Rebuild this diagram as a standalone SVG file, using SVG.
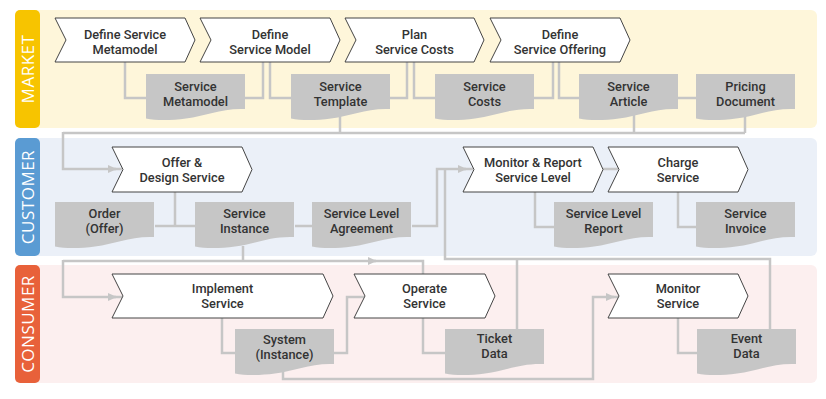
<svg xmlns="http://www.w3.org/2000/svg" width="826" height="399" viewBox="0 0 826 399">
  <style>
    .lbl { font-family: Roboto, "Liberation Sans", sans-serif; font-size: 12.8px; font-weight: 500; fill: #333; text-anchor: middle; }
    .tab { font-family: "Open Sans", "Liberation Sans", sans-serif; font-size: 17px; fill: #fff; text-anchor: middle; letter-spacing: 0.5px; }
    .chev { fill: #fff; stroke: #444; stroke-width: 1; stroke-linejoin: miter; }
    .doc { fill: #c6c6c6; }
    .wire { fill: none; stroke: #c6c6c6; stroke-width: 2.5; }
  </style>
  <defs>
    <path id="docShape" d="M0,0 H99 V35 C75,34 60,42 40,44.5 C25,46.5 10,46.5 0,44.5 Z"/>
    <marker id="arr" markerWidth="10" markerHeight="10" refX="8" refY="5" orient="auto" markerUnits="userSpaceOnUse">
      <path d="M0,1 L9,5 L0,9 Z" fill="#c6c6c6"/>
    </marker>
  </defs>

  <!-- swimlanes -->
  <g id="lane-market">
    <rect x="22" y="10" width="795" height="118" rx="6" fill="#fef6da"/>
    <rect x="15" y="10" width="25" height="118" rx="5" fill="#f7c400"/>
    <text class="tab" transform="translate(33.5,69) rotate(-90)">MARKET</text>
  </g>
  <g id="lane-customer">
    <rect x="22" y="138" width="795" height="118" rx="6" fill="#ebf0f8"/>
    <rect x="15" y="138" width="25" height="118" rx="5" fill="#5a9bd3"/>
    <text class="tab" transform="translate(33.5,197) rotate(-90)">CUSTOMER</text>
  </g>
  <g id="lane-consumer">
    <rect x="22" y="265" width="795" height="118" rx="6" fill="#fcefef"/>
    <rect x="15" y="265" width="25" height="118" rx="5" fill="#e8613a"/>
    <text class="tab" transform="translate(33.5,324) rotate(-90)">CONSUMER</text>
  </g>

  <!-- connectors -->
  <g id="connectors">
    <!-- market -->
    <path class="wire" d="M125,62 V98 H146"/>
    <path class="wire" d="M245,98 H263 V62"/>
    <path class="wire" d="M270,62 V98 H291"/>
    <path class="wire" d="M390,98 H407 V62"/>
    <path class="wire" d="M414,62 V98 H435"/>
    <path class="wire" d="M534,98 H553 V62"/>
    <path class="wire" d="M559,62 V98 H579"/>
    <path class="wire" d="M678,98 H696"/>
    <path class="wire" d="M340,112 V133"/>
    <path class="wire" d="M634,112 V133"/>
    <path class="wire" d="M745,110 V133"/>
    <path class="wire" d="M63,133 H745"/>
    <path class="wire" d="M63,132 V169 H116" marker-end="url(#arr)"/>
    <path class="wire" d="M114,169 H122"/>
    <!-- customer -->
    <path class="wire" d="M175,192 V226"/>
    <path class="wire" d="M155,226 H195"/>
    <path class="wire" d="M295,226 H312"/>
    <path class="wire" d="M412,226 H437 V169 H466" marker-end="url(#arr)"/>
    <path class="wire" d="M464,169 H473"/>
    <path class="wire" d="M445,169 V259 H770 V329"/>
    <path class="wire" d="M517,259 V329"/>
    <path class="wire" d="M603,169 H618"/>
    <path class="wire" d="M535,192 V227 H554"/>
    <path class="wire" d="M678,192 V227 H696"/>
    <!-- consumer -->
    <path class="wire" d="M243,246 V261"/>
    <path class="wire" d="M63,261 H376" marker-end="url(#arr)"/>
    <path class="wire" d="M374,261 H423 V274"/>
    <path class="wire" d="M63,260 V297 H116" marker-end="url(#arr)"/>
    <path class="wire" d="M114,297 H122"/>
    <path class="wire" d="M222,318 V353 H235"/>
    <path class="wire" d="M334,353 H347 V297 H364"/>
    <path class="wire" d="M423,318 V353 H445"/>
    <path class="wire" d="M678,318 V353 H697"/>
    <path class="wire" d="M283,370 V379 H593 V297 H614" marker-end="url(#arr)"/>
    <path class="wire" d="M612,297 H618"/>
  </g>

  <!-- market processes -->
  <g id="define-service-metamodel">
    <path class="chev" d="M55,18 H185 L195,40 L185,62 H55 L66,40 Z"/>
    <text class="lbl" x="125" y="39">Define Service</text>
    <text class="lbl" x="125" y="54">Metamodel</text>
  </g>
  <g id="define-service-model">
    <path class="chev" d="M200,18 H330 L340,40 L330,62 H200 L211,40 Z"/>
    <text class="lbl" x="270" y="39">Define</text>
    <text class="lbl" x="270" y="54">Service Model</text>
  </g>
  <g id="plan-service-costs">
    <path class="chev" d="M345,18 H474 L484,40 L474,62 H345 L356,40 Z"/>
    <text class="lbl" x="414.5" y="39">Plan</text>
    <text class="lbl" x="414.5" y="54">Service Costs</text>
  </g>
  <g id="define-service-offering">
    <path class="chev" d="M490,18 H620 L630,40 L620,62 H490 L501,40 Z"/>
    <text class="lbl" x="560" y="39">Define</text>
    <text class="lbl" x="560" y="54">Service Offering</text>
  </g>

  <!-- market documents -->
  <g id="doc-service-metamodel">
    <use href="#docShape" class="doc" x="146" y="74"/>
    <text class="lbl" x="195.5" y="91">Service</text>
    <text class="lbl" x="195.5" y="106">Metamodel</text>
  </g>
  <g id="doc-service-template">
    <use href="#docShape" class="doc" x="291" y="74"/>
    <text class="lbl" x="340.5" y="91">Service</text>
    <text class="lbl" x="340.5" y="106">Template</text>
  </g>
  <g id="doc-service-costs">
    <use href="#docShape" class="doc" x="435" y="74"/>
    <text class="lbl" x="484.5" y="91">Service</text>
    <text class="lbl" x="484.5" y="106">Costs</text>
  </g>
  <g id="doc-service-article">
    <use href="#docShape" class="doc" x="579" y="74"/>
    <text class="lbl" x="628.5" y="91">Service</text>
    <text class="lbl" x="628.5" y="106">Article</text>
  </g>
  <g id="doc-pricing-document">
    <use href="#docShape" class="doc" x="696" y="74"/>
    <text class="lbl" x="745.5" y="91">Pricing</text>
    <text class="lbl" x="745.5" y="106">Document</text>
  </g>

  <!-- customer processes -->
  <g id="offer-design-service">
    <path class="chev" d="M112,147 H242 L252,169.5 L242,192 H112 L123,169.5 Z"/>
    <text class="lbl" x="182" y="167">Offer &amp;</text>
    <text class="lbl" x="182" y="182">Design Service</text>
  </g>
  <g id="monitor-report-service-level">
    <path class="chev" d="M463,147 H593 L603,169.5 L593,192 H463 L474,169.5 Z"/>
    <text class="lbl" x="533" y="167">Monitor &amp; Report</text>
    <text class="lbl" x="533" y="182">Service Level</text>
  </g>
  <g id="charge-service">
    <path class="chev" d="M608,147 H738 L748,169.5 L738,192 H608 L619,169.5 Z"/>
    <text class="lbl" x="678" y="167">Charge</text>
    <text class="lbl" x="678" y="182">Service</text>
  </g>

  <!-- customer documents -->
  <g id="doc-order-offer">
    <use href="#docShape" class="doc" x="55" y="202"/>
    <text class="lbl" x="104.5" y="218">Order</text>
    <text class="lbl" x="104.5" y="233">(Offer)</text>
  </g>
  <g id="doc-service-instance">
    <use href="#docShape" class="doc" x="195" y="202"/>
    <text class="lbl" x="244.5" y="218">Service</text>
    <text class="lbl" x="244.5" y="233">Instance</text>
  </g>
  <g id="doc-service-level-agreement">
    <use href="#docShape" class="doc" x="312" y="202"/>
    <text class="lbl" x="361.5" y="218">Service Level</text>
    <text class="lbl" x="361.5" y="233">Agreement</text>
  </g>
  <g id="doc-service-level-report">
    <use href="#docShape" class="doc" x="554" y="202"/>
    <text class="lbl" x="603.5" y="218">Service Level</text>
    <text class="lbl" x="603.5" y="233">Report</text>
  </g>
  <g id="doc-service-invoice">
    <use href="#docShape" class="doc" x="696" y="202"/>
    <text class="lbl" x="745.5" y="218">Service</text>
    <text class="lbl" x="745.5" y="233">Invoice</text>
  </g>

  <!-- consumer processes -->
  <g id="implement-service">
    <path class="chev" d="M112,274 H323 L333,296 L323,318 H112 L123,296 Z"/>
    <text class="lbl" x="222.5" y="293">Implement</text>
    <text class="lbl" x="222.5" y="308">Service</text>
  </g>
  <g id="operate-service">
    <path class="chev" d="M354,274 H485 L495,296 L485,318 H354 L365,296 Z"/>
    <text class="lbl" x="424.5" y="293">Operate</text>
    <text class="lbl" x="424.5" y="308">Service</text>
  </g>
  <g id="monitor-service">
    <path class="chev" d="M608,274 H738 L748,296 L738,318 H608 L619,296 Z"/>
    <text class="lbl" x="678" y="293">Monitor</text>
    <text class="lbl" x="678" y="308">Service</text>
  </g>

  <!-- consumer documents -->
  <g id="doc-system-instance">
    <use href="#docShape" class="doc" x="235" y="329"/>
    <text class="lbl" x="284.5" y="344">System</text>
    <text class="lbl" x="284.5" y="359">(Instance)</text>
  </g>
  <g id="doc-ticket-data">
    <use href="#docShape" class="doc" x="445" y="329"/>
    <text class="lbl" x="494.5" y="343">Ticket</text>
    <text class="lbl" x="494.5" y="358">Data</text>
  </g>
  <g id="doc-event-data">
    <use href="#docShape" class="doc" x="697" y="329"/>
    <text class="lbl" x="746.5" y="343">Event</text>
    <text class="lbl" x="746.5" y="358">Data</text>
  </g>
</svg>
